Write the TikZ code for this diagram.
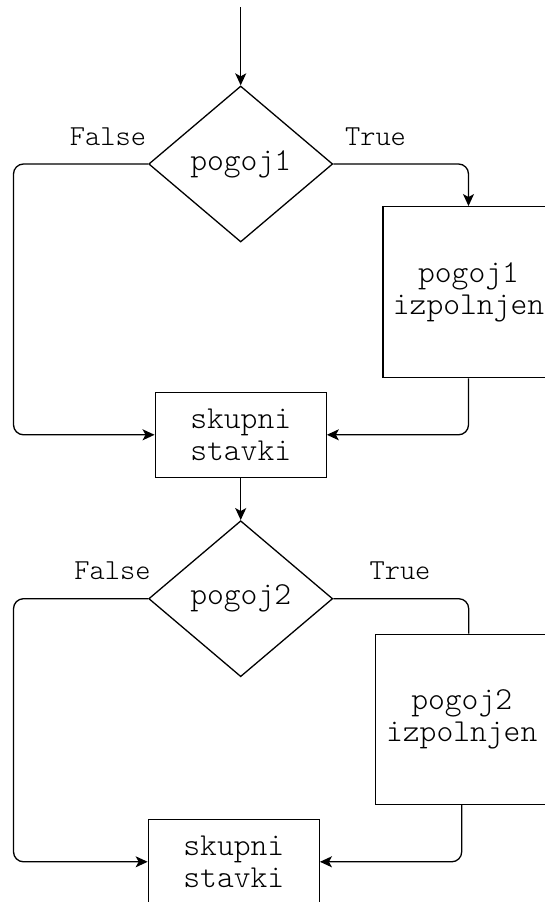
\documentclass[tikz,border=0pt]{standalone}
\usepackage{fontspec}
\newfontfamily\boxfont{Latin Modern Mono Light}
\usepackage{tikz}
\usetikzlibrary{arrows.meta, positioning, shapes.geometric}

\begin{document}
\begin{tikzpicture}[x=1pt, y=-1pt, line width=1.3pt, >={Stealth[length=12pt, width=11pt, inset=3pt]}, font=\boxfont\fontsize{32}{32}\selectfont]
		
		% Define styles
		\tikzstyle{decision} = [diamond, draw, fill=white, text centered, inner sep=0pt, minimum width=184pt, minimum height=156pt]
		\tikzstyle{block} = [rectangle, draw, fill=white, text centered, align=center, inner sep=0pt, minimum width=171pt, minimum height=171pt]
		\tikzstyle{merge} = [rectangle, draw, fill=white, text centered, align=center, inner sep=0pt, minimum width=171pt, minimum height=85pt]
		\tikzstyle{branch} = [->, rounded corners=10pt]
		\tikzstyle{lbl} = [inner sep=0pt, font=\boxfont\fontsize{29}{30}\selectfont]
		
		\useasboundingbox (0,0) rectangle (545,902);
		
		% Nodes
		\node[decision] (cond1) at (240.7,164) {pogoj1};
		\node[block] (true1) at (468.5,292.2) {pogoj1\\izpolnjen};
		\node[merge, below of=cond1, node distance=270.8pt] (merge1) {skupni\\stavki};
		\node[decision, below of=merge1, node distance=163.9pt] (cond2) {pogoj2};
		\node[block, minimum width=172pt, minimum height=170pt] (true2) at (461.7,719.2) {pogoj2\\izpolnjen};
		\node[merge] (merge2) at (233.8,861.8) {skupni\\stavki};
		
		\coordinate (start) at (240.7,7);
		\coordinate (rail) at (13.5,0);
		
		% Arrows
		\draw[->] (start) -- (cond1.north);
		\draw[branch] (cond1.east) -| (true1.north);
		\draw[branch] (cond1.west) -- (cond1.west -| rail) |- (merge1.west);
		\draw[branch] (true1.south) |- (merge1.east);
		\draw[->] (merge1.south) -- (cond2.north);
		\draw[rounded corners=10pt] (cond2.east) -| ([xshift=7pt]true2.north);
		\draw[branch] (cond2.west) -- (cond2.west -| rail) |- (merge2.west);
		\draw[branch] (true2.south) |- (merge2.east);
		
		% Labels
		\node[lbl] (false1) at (108,137) {False};
		\node[lbl] (yes1) at (375.5,137) {True};
		\node[lbl] (false2) at (112.5,571) {False};
		\node[lbl] (yes2) at (400,571) {True};
		
	\end{tikzpicture}
\end{document}
